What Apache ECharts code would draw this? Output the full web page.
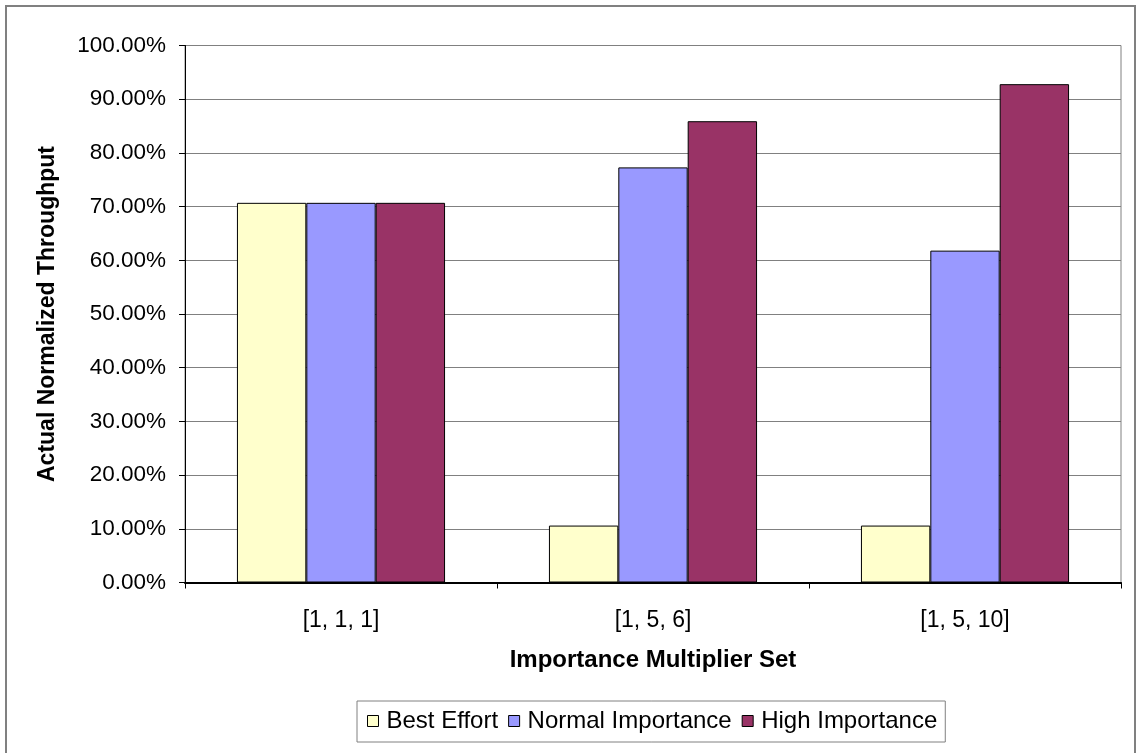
<!DOCTYPE html>
<html>
<head>
<meta charset="utf-8">
<script src="https://cdn.jsdelivr.net/npm/echarts@6/dist/echarts.min.js"></script>
<style>
  html, body { margin: 0; padding: 0; background: #fff; }
  #chart { width: 1138px; height: 753px; }
</style>
</head>
<body>
<div id="chart"></div>
<script>
// data (percent)
var categories = ['[1, 1, 1]', '[1, 5, 6]', '[1, 5, 10]'];
var seriesNames = ['Best Effort', 'Normal Importance', 'High Importance'];
var bestEffort = [70.7, 10.6, 10.6];
var normalImportance = [70.7, 77.3, 61.8];
var highImportance = [70.7, 85.9, 92.8];
var yTicks = { min: 0, max: 100, interval: 10 };

var colors = ['#FFFFCC', '#9999FF', '#993366'];
var font = 'Liberation Sans, Arial, sans-serif';

var myChart = echarts.init(document.getElementById('chart'));

function barSeries(name, data, color) {
    return {
        name: name,
        type: 'bar',
        data: data,
        barGap: 0,
        barCategoryGap: '33.3%',
        itemStyle: { color: color, borderColor: '#000', borderWidth: 1 }
    };
}

var option = {
    backgroundColor: '#fff',
    animation: false,
    textStyle: { fontFamily: font },
    graphic: [{
        type: 'rect',
        shape: { x: 6, y: 6, width: 1129, height: 780 },
        style: { fill: 'none', stroke: '#808080', lineWidth: 2 },
        z: 100
    }],
    grid: {
        left: 185, right: 17, top: 45.5, bottom: 170.5,
        show: true, borderColor: '#808080', borderWidth: 1,
        containLabel: false
    },
    legend: {
        data: seriesNames,
        left: 357, top: 701,
        orient: 'horizontal',
        itemWidth: 11, itemHeight: 11, itemGap: 10,
        padding: [8, 8, 9, 10],
        borderColor: '#808080', borderWidth: 1,
        icon: 'rect',
        itemStyle: { borderColor: '#000', borderWidth: 1 },
        textStyle: { fontSize: 24, color: '#000', fontFamily: font, padding: [0, 0, 0, 3] }
    },
    xAxis: {
        type: 'category',
        data: categories,
        name: 'Importance Multiplier Set',
        nameLocation: 'middle',
        nameGap: 66,
        nameTextStyle: { fontSize: 24, fontWeight: 'bold', color: '#000' },
        axisLine: { lineStyle: { color: '#000', width: 2 } },
        axisTick: { show: true, length: 6, lineStyle: { color: '#000' } },
        axisLabel: { fontSize: 23, color: '#000', margin: 27 },
        splitLine: { show: false }
    },
    yAxis: {
        type: 'value',
        min: yTicks.min, max: yTicks.max, interval: yTicks.interval,
        name: 'Actual Normalized Throughput',
        nameLocation: 'middle',
        nameGap: 126,
        nameTextStyle: { fontSize: 23, fontWeight: 'bold', color: '#000' },
        axisLine: { show: true, lineStyle: { color: '#000', width: 1 } },
        axisTick: { show: true, length: 6, lineStyle: { color: '#000' } },
        axisLabel: {
            fontSize: 22.5, color: '#000', margin: 19,
            formatter: function (v) { return v.toFixed(2) + '%'; }
        },
        splitLine: { show: true, lineStyle: { color: '#808080', width: 1 } }
    },
    series: [
        barSeries(seriesNames[0], bestEffort, colors[0]),
        barSeries(seriesNames[1], normalImportance, colors[1]),
        barSeries(seriesNames[2], highImportance, colors[2])
    ]
};

myChart.setOption(option, true);
</script>
</body>
</html>
